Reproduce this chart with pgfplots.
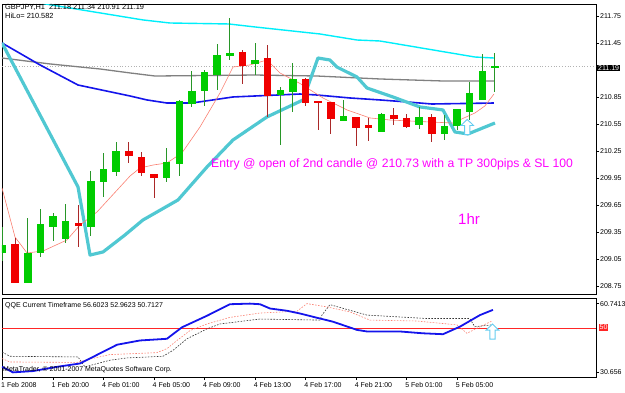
\documentclass[border=0pt]{standalone}
\usepackage{pgfplots}
\pgfplotsset{compat=1.18}
\usepackage{pgfplotstable}
\usepackage{fontspec}
\setmainfont{Liberation Sans}
\definecolor{bull}{RGB}{0,204,0}
\definecolor{bullwick}{RGB}{40,150,40}
\definecolor{bear}{RGB}{240,0,0}
\definecolor{bearwick}{RGB}{170,40,40}
\definecolor{tealc}{RGB}{80,200,210}
\definecolor{cyanc}{RGB}{0,238,250}
\definecolor{salm}{RGB}{250,128,114}
\definecolor{mtblue}{RGB}{20,20,235}
\definecolor{arrowc}{RGB}{100,205,240}
\definecolor{mag}{RGB}{255,0,255}
\newcommand\sm{\fontsize{7}{8}\selectfont}
\pgfdeclareplotmark{uparr}{%
 \pgfpathmoveto{\pgfqpoint{0pt}{7.5pt}}%
 \pgfpathlineto{\pgfqpoint{6.3pt}{1.5pt}}%
 \pgfpathlineto{\pgfqpoint{2.6pt}{1.5pt}}%
 \pgfpathlineto{\pgfqpoint{2.6pt}{-7.5pt}}%
 \pgfpathlineto{\pgfqpoint{-2.6pt}{-7.5pt}}%
 \pgfpathlineto{\pgfqpoint{-2.6pt}{1.5pt}}%
 \pgfpathlineto{\pgfqpoint{-6.3pt}{1.5pt}}%
 \pgfpathclose\pgfusepathqfillstroke}
\pgfplotsset{candle/.style={only marks, mark=*, mark size=0pt, mark options={draw=none, fill=none},
  error bars/.cd, y dir=both, y explicit, error mark=none}}

\pgfplotstableread{
i o h l c
0 209.117 209.406 209.030 209.206
2 208.794 209.506 208.790 209.117
3 209.117 209.606 209.072 209.439
4 209.417 209.561 209.250 209.528
5 209.272 209.661 209.228 209.472
7 209.406 210.028 209.306 209.906
8 209.906 210.228 209.739 210.050
9 210.028 210.350 209.972 210.250
13 209.961 210.283 209.906 210.128
14 210.106 210.817 209.972 210.806
15 210.783 211.139 210.739 210.917
16 210.917 211.150 210.750 211.117
17 211.094 211.439 210.928 211.306
18 211.306 211.728 211.261 211.339
20 211.217 211.450 211.094 211.250
22 210.872 210.961 210.317 210.928
23 210.906 211.228 210.683 211.050
27 210.594 210.817 210.580 210.639
30 210.472 210.672 210.470 210.661
33 210.550 210.739 210.494 210.628
35 210.439 210.650 210.372 210.528
36 210.528 210.720 210.483 210.717
37 210.694 211.017 210.594 210.894
38 210.817 211.328 210.817 211.139
39 211.180 211.340 210.910 211.190
}\bulltable

\pgfplotstableread{
i o h l c
1 209.217 209.283 208.783 208.783
6 209.450 209.650 209.183 209.417
10 210.250 210.350 210.117 210.194
11 210.183 210.239 209.972 210.006
12 209.994 209.994 209.728 209.950
19 211.350 211.372 211.000 211.194
21 211.283 211.428 210.628 210.872
24 211.050 211.060 210.750 210.794
25 210.806 210.806 210.483 210.794
26 210.794 210.800 210.439 210.617
28 210.628 210.628 210.306 210.506
29 210.539 210.617 210.361 210.506
31 210.650 210.728 210.539 210.606
32 210.617 210.661 210.506 210.528
34 210.628 210.661 210.350 210.439
}\beartable

\begin{document}
\begin{tikzpicture}
\useasboundingbox (0,0) rectangle (625pt,-392pt);
\begin{axis}[
  anchor=north west, at={(2pt,-4pt)}, scale only axis,
  width=594pt, height=290pt,
  xmin=-0.04, xmax=47, ymin=208.661, ymax=211.883,
  xtick=\empty,
  ytick={208.75,209.05,209.35,209.65,209.95,210.25,210.55,210.85,211.15,211.45,211.75},
  yticklabels={208.75,209.05,209.35,209.65,209.95,210.25,210.55,210.85,,211.45,211.75},
  ytick pos=right, yticklabel pos=right,
  tick align=outside, major tick length=3pt,
  tick style={black, line width=0.5pt},
  yticklabel style={font=\sm, inner sep=1pt},
  axis line style={black, line width=0.8pt},
]
% current price dotted line
\addplot[black!30, dotted, line width=0.8pt] coordinates {(-0.04,211.19) (47,211.19)};
% cyan thin line
\addplot[cyanc, line width=1.4pt] coordinates {
(-0.04,211.962) (2.41,211.906) (11.12,211.706) (13.26,211.672) (17.93,211.661)
(19.99,211.628) (25.14,211.55) (28.07,211.483) (29.89,211.472) (37.41,211.294) (38.92,211.283)};
% gray line
\addplot[black!50, line width=1.3pt] coordinates {
(-0.04,211.283) (3.76,211.217) (7.72,211.161) (10.1,211.117) (12.07,211.083)
(19.99,211.094) (24.9,211.083) (29.89,211.05) (34.8,211.028) (38.92,211.028)};
% blue line
\addplot[mtblue, line width=1.6pt] coordinates {
(-0.04,211.45) (2.97,211.206) (5.98,210.983) (10.1,210.861) (11.44,210.817)
(13.02,210.783) (15.0,210.783) (18.25,210.85) (19.99,210.861) (23.56,210.883)
(24.9,210.872) (27.51,210.839) (29.89,210.817) (32.1,210.794) (34.0,210.772) (38.92,210.783)};
% thick teal line
\addplot[tealc, line width=3.2pt, line join=round] coordinates {
(-0.04,211.45) (5.98,209.85) (6.93,209.094) (7.96,209.128) (9.7,209.317)
(11.12,209.483) (13.9,209.706) (16.19,210.072) (18.25,210.372) (20.94,210.628)
(23.8,210.817) (24.98,211.283) (25.93,211.261) (26.48,211.183) (28.07,211.072)
(28.86,210.95) (30.92,210.85) (33.06,210.739) (34.88,210.706) (35.83,210.461)
(36.86,210.439) (39.0,210.561)};
% salmon MA
\addplot[salm, line width=0.6pt] coordinates {
(-0.04,209.839) (0.99,209.294) (1.94,209.117) (3.21,209.139) (5.1,209.261)
(6.14,209.428) (7.48,209.572) (10.1,209.972) (10.89,210.061) (11.92,210.094)
(13.02,210.117) (14.21,210.228) (15.64,210.517) (17.22,210.894) (18.25,211.183)
(19.6,211.206) (20.94,211.261) (21.97,211.117) (23.56,211.0) (25.38,210.839)
(27.28,210.706) (29.1,210.617) (30.69,210.594) (33.85,210.572) (35.67,210.561)
(37.41,210.672) (38.2,210.75) (38.92,210.883)};
% candles: wicks
\addplot[candle, error bar style={line width=1pt, bullwick}]
  table[x=i, y expr={(\thisrow{h}+\thisrow{l})/2}, y error expr={(\thisrow{h}-\thisrow{l})/2}] {\bulltable};
\addplot[candle, error bar style={line width=1pt, bearwick}]
  table[x=i, y expr={(\thisrow{h}+\thisrow{l})/2}, y error expr={(\thisrow{h}-\thisrow{l})/2}] {\beartable};
% candles: bodies
\addplot[candle, error bar style={line width=7.5pt, bull}]
  table[x=i, y expr={(\thisrow{o}+\thisrow{c})/2}, y error expr={abs(\thisrow{o}-\thisrow{c})/2+0.005}] {\bulltable};
\addplot[candle, error bar style={line width=7.5pt, bear}]
  table[x=i, y expr={(\thisrow{o}+\thisrow{c})/2}, y error expr={abs(\thisrow{o}-\thisrow{c})/2+0.005}] {\beartable};
% signal arrow
\addplot[only marks, mark=uparr, mark options={draw=arrowc, fill=white, line width=0.9pt}] coordinates {(36.8,210.517)};
\end{axis}

\begin{axis}[
  anchor=north west, at={(2pt,-298pt)}, scale only axis,
  width=594pt, height=79pt,
  xmin=-0.04, xmax=47, ymin=28.49, ymax=63.21,
  xtick={0,4,8,12,16,20,24,28,32,36},
  xticklabels={1 Feb 2008,1 Feb 20:00,4 Feb 01:00,4 Feb 05:00,4 Feb 09:00,4 Feb 13:00,4 Feb 17:00,4 Feb 21:00,5 Feb 01:00,5 Feb 05:00},
  xtick pos=bottom,
  xticklabel style={font=\sm, anchor=north west, xshift=-2.5pt, inner sep=1pt, yshift=-1pt},
  ytick={30.656,60.7413}, yticklabels={30.656,60.7413},
  ytick pos=right, yticklabel pos=right,
  tick align=outside, major tick length=3pt,
  tick style={black, line width=0.5pt},
  yticklabel style={font=\sm, inner sep=1pt},
  axis line style={black, line width=0.8pt},
]
\addplot[red!85, line width=0.8pt] coordinates {(-0.04,50) (47,50)};
\addplot[black!80, line width=0.6pt, dash pattern=on 1.6pt off 1.4pt] coordinates {
(-0.04,39.47) (0.59,37.6) (5.98,37.3) (6.53,32.96) (8.51,35.87) (9.86,36.87)
(12.71,37.6) (13.5,40.21) (14.61,45.29) (16.19,49.63) (17.22,51.8) (20.39,53.97)
(25.14,53.5) (25.3,55.7) (25.93,60.3) (28.86,55.7) (33.6,54.2) (37.0,54.2)
(37.4,50.6) (38.76,51.4)};
\addplot[salm, line width=0.6pt, dash pattern=on 1.6pt off 1.4pt] coordinates {
(-0.04,36.6) (0.59,35.1) (5.9,34.9) (7.09,36.6) (8.51,38.35) (12.23,39.2)
(13.02,40.95) (13.82,44.55) (14.85,48.9) (16.19,51.8) (18.01,54.7) (20.39,56.6)
(23.32,57.4) (24.11,60.74) (25.69,59.3) (27.51,57.1) (29.1,53.5) (32.82,53.1)
(35.99,51.4) (36.78,47.7) (37.57,49.9) (38.76,53.1)};
\addplot[mtblue, line width=1.8pt] coordinates {
(-0.04,32.96) (0.83,30.53) (2.41,31.1) (4.32,32.96) (6.14,34.44) (9.07,42.68)
(10.89,44.55) (13.02,45.29) (14.21,50.33) (16.19,55.4) (18.01,60.48) (19.6,60.74)
(20.39,60.48) (21.18,58.6) (22.53,57.6) (23.56,56.4) (25.14,54.2) (26.17,52.8)
(28.07,49.2) (28.86,48.5) (31.47,48.5) (33.29,47.7) (34.88,47.3) (36.22,50.6)
(37.81,55.7) (38.84,58.0)};
\addplot[only marks, mark=uparr, mark options={draw=arrowc, fill=white, line width=0.9pt}] coordinates {(38.8,48.46)};
\end{axis}

% texts
\node[anchor=west, font=\fontsize{7.4}{8}\selectfont, inner sep=0pt] at (5pt,-7pt) {GBPJPY,H1\ \ 211.18 211.34 210.91 211.19};
\node[anchor=west, font=\fontsize{7.4}{8}\selectfont, inner sep=0pt] at (5pt,-15.5pt) {HiLo= 210.582};
\node[anchor=west, font=\fontsize{12.2}{14}\selectfont, text=mag, inner sep=0pt] at (211pt,-164.5pt) {Entry @ open of 2nd candle @ 210.73 with a TP 300pips \& SL 100};
\node[anchor=west, font=\fontsize{15}{17}\selectfont, text=mag, inner sep=0pt] at (458pt,-219pt) {1hr};
\node[anchor=west, fill=black, text=white, font=\sm, inner sep=1pt] at (597pt,-68pt) {211.19};
\node[anchor=west, font=\sm, inner sep=0pt] at (5pt,-306pt) {QQE Current Timeframe 56.6023 52.9623 50.7127};
\node[anchor=west, font=\sm, inner sep=0pt] at (3pt,-370pt) {MetaTrader, © 2001-2007 MetaQuotes Software Corp.};
\node[anchor=west, fill=red!85, text=white, font=\sm, inner sep=1pt] at (598.5pt,-327.5pt) {50};
\end{tikzpicture}
\end{document}
